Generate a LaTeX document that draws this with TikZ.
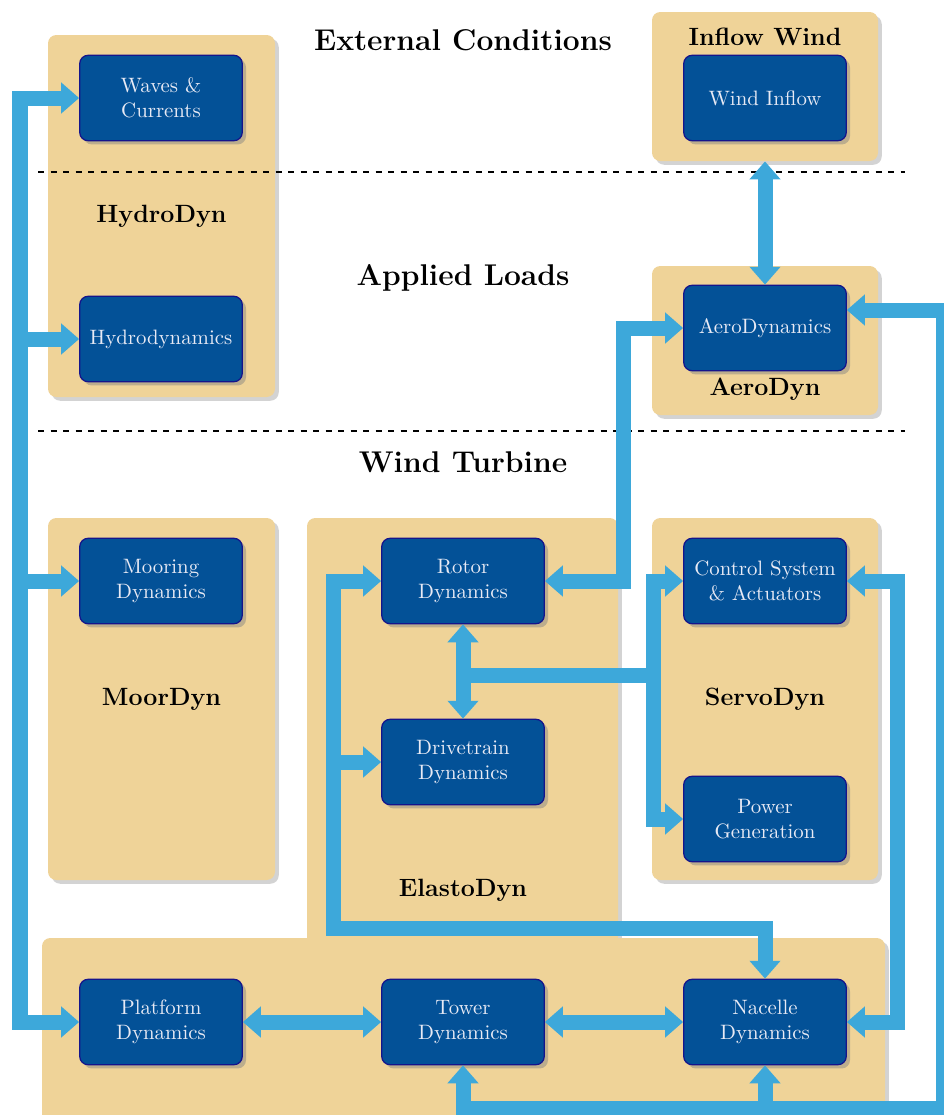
\documentclass[tikz,border=0pt]{standalone}
\usepackage{tikz}
\usetikzlibrary{arrows.meta,calc,fit,shadows}
\definecolor{tanbg}{RGB}{239,211,152}
\definecolor{compblue}{RGB}{3,81,151}
\definecolor{compline}{RGB}{20,20,140}
\definecolor{flowblue}{RGB}{61,168,218}
\definecolor{comptext}{RGB}{232,234,245}

\begin{document}
\begin{tikzpicture}[x=0.48pt, y=-0.48pt,
    module/.style={fill=tanbg, rounded corners=4pt, inner sep=0pt,
        drop shadow={shadow xshift=1.8pt, shadow yshift=-1.8pt, opacity=0.35}},
    comp/.style={draw=compline, line width=0.6pt, fill=compblue, text=comptext,
        rounded corners=4pt, minimum width=78pt, minimum height=41pt, align=center,
        drop shadow={shadow xshift=1.8pt, shadow yshift=-1.8pt, opacity=0.45}},
    modname/.style={font=\large\bfseries},
    region/.style={font=\Large\bfseries},
    sep/.style={dashed, line width=0.6pt},
    flow/.style={draw=flowblue, line width=7.2pt,
        >={Triangle[length=8.6pt, width=14.4pt]}}]
    \useasboundingbox (0,0) rectangle (944,1115);
    \clip (0,0) rectangle (944,1115);

    % modules
    \node[module, fit={(48,35) (275,397)}] (hydrobox) {};
    \node[module, fit={(652,12) (878,161)}] (inflowbox) {};
    \node[module, fit={(652,266) (878,415)}] (aerobox) {};
    \node[module, fit={(48,518) (275,880)}] (moorbox) {};
    \node[module, fit={(307,518) (618,945)}] (elastobox) {};
    \node[module, fit={(652,518) (878,880)}] (servobox) {};
    \node[module, fit={(42,938) (885,1140)}] (structbox) {};

    % separators and titles
    \draw[sep] (38,172) -- (905,172);
    \draw[sep] (38,431) -- (905,431);
    \node[region] at (463,40) {External Conditions};
    \node[region] at (463,278) {Applied Loads};
    \node[region] at (463,462) {Wind Turbine};

    \node[modname] at (hydrobox.center) {HydroDyn};
    \node[modname] at (765,37) {Inflow Wind};
    \node[modname] at (765,389) {AeroDyn};
    \node[modname] at (moorbox.center) {MoorDyn};
    \node[modname] at (463,890) {ElastoDyn};
    \node[modname] at (servobox.center) {ServoDyn};

    % components
    \node[comp] (waves) at (161,98) {Waves \&\\Currents};
    \node[comp] (hydro) at (161,339) {Hydrodynamics};
    \node[comp] (inflow) at (765,98) {Wind Inflow};
    \node[comp] (aero) at (765,328) {AeroDynamics};
    \node[comp] (mooring) at (161,581) {Mooring\\Dynamics};
    \node[comp] (rotor) at (463,581) {Rotor\\Dynamics};
    \node[comp] (drive) at (463,762) {Drivetrain\\Dynamics};
    \node[comp] (control) at (765,581) {Control System\\\& Actuators};
    \node[comp] (power) at (765,819) {Power\\Generation};
    \node[comp] (platform) at (161,1022) {Platform\\Dynamics};
    \node[comp] (tower) at (463,1022) {Tower\\Dynamics};
    \node[comp] (nacelle) at (765,1022) {Nacelle\\Dynamics};

    % bus points
    \coordinate (lbus) at (20,500);
    \coordinate (abus) at (623,450);
    \coordinate (rbus) at (943,700);
    \coordinate (bbus) at (700,1108);
    \coordinate (sbus) at (897,800);
    \coordinate (cbus) at (653,700);
    \coordinate (tap) at (463,675);
    \coordinate (ebus) at (333,800);
    \coordinate (ebot) at (600,928);

    % couplings
    \draw[flow, <->] (waves.west) -| (lbus) |- (platform.west);
    \draw[flow, ->] (lbus |- hydro.west) -- (hydro.west);
    \draw[flow, ->] (lbus |- mooring.west) -- (mooring.west);
    \draw[flow, <->] (inflowbox.south) -- (aero.north);
    \draw[flow, <->] (rotor.east) -| (abus) |- (aero.west);
    \draw[flow, <->] ($(aero.east)+(0,-18)$) -| (rbus) |- (bbus) -| (tower.south);
    \draw[flow, ->] (bbus -| nacelle.south) -- (nacelle.south);
    \draw[flow, <->] (control.east) -| (sbus) |- (nacelle.east);
    \draw[flow, <->] (rotor.south) -- (drive.north);
    \draw[flow] (tap) -- (tap -| cbus);
    \draw[flow, <->] (control.west) -| (cbus) |- (power.west);
    \draw[flow, <->] (rotor.west) -| (ebus) |- (ebot) -| (nacelle.north);
    \draw[flow, ->] (ebus |- drive.west) -- (drive.west);
    \draw[flow, <->] (platform.east) -- (tower.west);
    \draw[flow, <->] (tower.east) -- (nacelle.west);
\end{tikzpicture}
\end{document}
